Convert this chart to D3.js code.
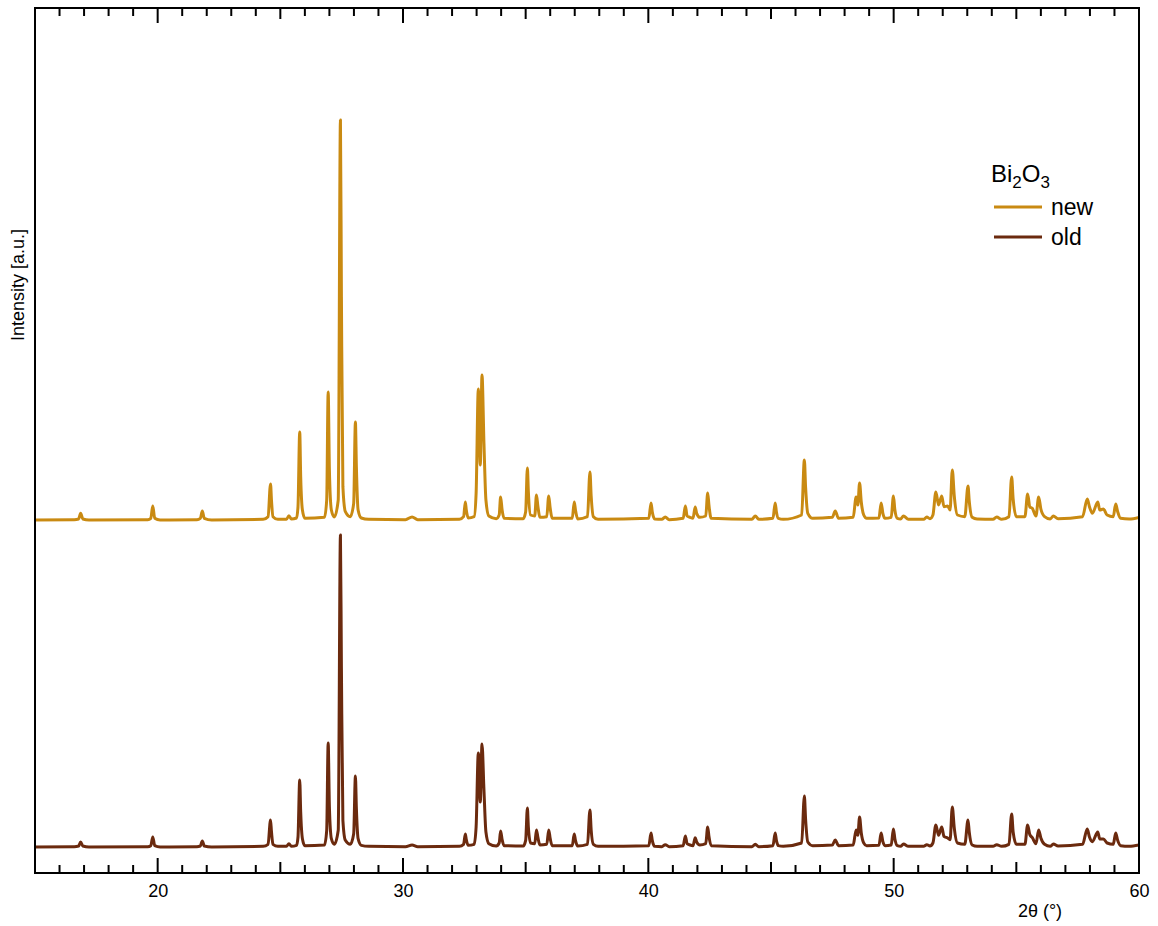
<!DOCTYPE html>
<meta charset="utf-8">
<style>
body { margin: 0; background: #fff; }
svg { display: block; }
text { font-family: "Liberation Sans", Arial, sans-serif; fill: #000; }
.trace { fill: none; stroke-width: 3px; stroke-linejoin: round; }
.trace--new { stroke: #c98a12; }
.trace--old { stroke: #6b2a0e; }
.frame { fill: none; stroke: #000; stroke-width: 2px; }
.tick-mark { stroke: #000; stroke-width: 2px; }
</style>
<svg width="1158" height="926"></svg>
<script src="https://cdn.jsdelivr.net/npm/d3@7"></script>
<script>
// XRD patterns, 2theta in degrees, intensity in counts (baseline ~0)
var twoTheta = [
  15.0, 16.6, 16.78, 16.86, 16.95, 17.2,
  19.6, 19.72, 19.80, 19.88, 20.1,
  21.6, 21.74, 21.82, 21.9, 22.2,
  24.3, 24.5, 24.6, 24.64, 24.7, 24.9,
  25.25, 25.35, 25.45, 25.66, 25.72, 25.79, 25.83, 25.9, 26.0,
  26.8, 26.89, 26.95, 27.0, 27.08, 27.2,
  27.36, 27.45, 27.49, 27.55, 27.65, 27.85,
  27.99, 28.06, 28.1, 28.17, 28.3, 28.6,
  30.1, 30.37, 30.6,
  32.3, 32.47, 32.54, 32.58, 32.66,
  32.9, 32.98, 33.07, 33.15, 33.22, 33.3, 33.38, 33.5,
  33.8, 33.92, 33.98, 34.04, 34.12,
  34.9, 35.0, 35.07, 35.11, 35.2,
  35.37, 35.44, 35.5, 35.58,
  35.86, 35.94, 36.0, 36.08,
  36.9, 36.98, 37.03, 37.12,
  37.52, 37.62, 37.67, 37.76, 37.95,
  40.02, 40.11, 40.16, 40.26,
  40.55, 40.69, 40.85,
  41.42, 41.51, 41.58, 41.7, 41.82, 41.91, 41.97, 42.1,
  42.34, 42.42, 42.47, 42.56,
  44.22, 44.36, 44.5,
  45.08, 45.17, 45.22, 45.3, 45.5,
  46.25, 46.36, 46.41, 46.5, 46.7,
  47.5, 47.62, 47.75,
  48.35, 48.47, 48.54, 48.61, 48.68, 48.78, 48.9,
  49.4, 49.49, 49.56, 49.65,
  49.9, 49.99, 50.05, 50.15,
  50.28, 50.4, 50.6,
  51.22, 51.35, 51.48, 51.6, 51.72, 51.83, 51.96, 52.05, 52.2, 52.3, 52.39, 52.47, 52.6,
  52.9, 53.03, 53.08, 53.2, 53.4,
  54.05, 54.2, 54.4,
  54.7, 54.81, 54.87, 55.0,
  55.35, 55.46, 55.55, 55.65, 55.8, 55.91, 56.0, 56.15,
  56.38, 56.51, 56.7,
  57.7, 57.89, 57.98, 58.1, 58.32, 58.4, 58.55, 58.7,
  58.95, 59.05, 59.13, 59.25, 59.6, 60.0
];

var newCounts = [
  0, 1, 3, 20, 3, 0,
  1, 5, 42, 5, 0,
  1, 5, 27, 5, 0,
  2, 10, 108, 58, 10, 2,
  2, 13, 3, 6, 40, 264, 130, 30, 5,
  8, 60, 384, 150, 30, 9,
  60, 1200, 670, 100, 25, 10,
  50, 294, 160, 30, 6, 2,
  1, 9, 1,
  2, 10, 54, 30, 6,
  10, 80, 393, 165, 435, 230, 60, 12,
  4, 15, 69, 30, 5,
  4, 25, 156, 85, 15,
  12, 75, 40, 8,
  10, 72, 35, 5,
  5, 54, 30, 3,
  10, 144, 72, 10, 2,
  5, 51, 25, 3,
  2, 9, 1,
  5, 42, 12, 8, 5, 39, 20, 8,
  12, 81, 45, 5,
  2, 12, 2,
  5, 51, 25, 5, 2,
  15, 180, 99, 20, 5,
  8, 27, 5,
  8, 69, 45, 111, 54, 15, 5,
  6, 51, 20, 5,
  8, 72, 30, 5,
  3, 12, 2,
  2, 9, 4, 15, 84, 45, 72, 40, 42, 30, 150, 72, 15,
  10, 102, 57, 8, 3,
  2, 9, 2,
  10, 129, 63, 10,
  10, 78, 39, 35, 12, 69, 33, 10,
  3, 12, 4,
  10, 63, 40, 20, 54, 30, 33, 15,
  10, 48, 25, 5, 3, 8
];

var oldCounts = [
  0, 1, 3, 15, 3, 0,
  1, 4, 30, 4, 0,
  1, 3, 18, 3, 0,
  2, 8, 81, 45, 8, 2,
  2, 10, 2, 5, 30, 201, 105, 25, 4,
  6, 50, 312, 120, 25, 8,
  50, 936, 537, 80, 20, 8,
  40, 213, 116, 25, 5, 2,
  1, 6, 1,
  2, 8, 39, 22, 5,
  8, 60, 282, 135, 309, 171, 45, 10,
  3, 12, 48, 22, 4,
  3, 20, 117, 60, 12,
  10, 51, 28, 6,
  8, 51, 25, 4,
  4, 39, 20, 3,
  8, 111, 51, 8, 2,
  4, 42, 20, 2,
  1, 7, 1,
  4, 33, 10, 6, 4, 28, 15, 6,
  10, 60, 32, 4,
  1, 8, 1,
  4, 42, 20, 4, 2,
  12, 153, 84, 15, 4,
  6, 21, 4,
  6, 51, 35, 90, 42, 12, 4,
  5, 42, 16, 4,
  6, 54, 24, 4,
  2, 9, 2,
  2, 7, 3, 12, 66, 35, 60, 32, 27, 22, 120, 57, 12,
  8, 81, 45, 6, 2,
  2, 7, 2,
  8, 99, 45, 8,
  8, 66, 37, 28, 10, 51, 27, 8,
  2, 9, 3,
  8, 54, 30, 16, 45, 24, 24, 12,
  8, 42, 20, 4, 2, 6
];

var seriesNames = ["new", "old"];
var newOffset = 981; // vertical stacking of the "new" pattern
var xTickLabels = [20, 30, 40, 50, 60];

var svg = d3.select("svg"),
    margin = {top: 8, right: 19, bottom: 53, left: 35},
    width = +svg.attr("width") - margin.left - margin.right,
    height = +svg.attr("height") - margin.top - margin.bottom,
    g = svg.append("g").attr("transform", "translate(" + margin.left + "," + margin.top + ")");

var x = d3.scaleLinear().domain([15, 60]).range([0, width]),
    y = d3.scaleLinear().domain([-78, 2517]).range([height, 0]);

var series = [
  {id: "new", offset: newOffset, values: twoTheta.map(function(t, i) { return {t: t, c: newCounts[i]}; })},
  {id: "old", offset: 0, values: twoTheta.map(function(t, i) { return {t: t, c: oldCounts[i]}; })}
];

g.append("clipPath").attr("id", "plot-clip")
  .append("rect").attr("width", width).attr("height", height);

g.selectAll(".trace")
  .data(series)
  .enter().append("path")
    .attr("class", function(d) { return "trace trace--" + d.id; })
    .attr("clip-path", "url(#plot-clip)")
    .attr("d", function(s) {
      return d3.line()
        .curve(d3.curveMonotoneX)
        .x(function(d) { return x(d.t); })
        .y(function(d) { return y(d.c + s.offset); })(s.values);
    });

// inward ticks on bottom and top, longer every 5 and 10 degrees
var tickVals = d3.range(16, 60);
function tickLen(v) { return v % 10 === 0 ? 15 : (v % 5 === 0 ? 11 : 8); }

g.selectAll(".tick-bottom")
  .data(tickVals)
  .enter().append("line")
    .attr("class", "tick-mark")
    .attr("x1", function(d) { return x(d); })
    .attr("x2", function(d) { return x(d); })
    .attr("y1", height)
    .attr("y2", function(d) { return height - tickLen(d); });

g.selectAll(".tick-top")
  .data(tickVals)
  .enter().append("line")
    .attr("class", "tick-mark")
    .attr("x1", function(d) { return x(d); })
    .attr("x2", function(d) { return x(d); })
    .attr("y1", 0)
    .attr("y2", function(d) { return tickLen(d); });

var xAxis = g.append("g")
    .attr("transform", "translate(0," + height + ")")
    .call(d3.axisBottom(x).tickValues(xTickLabels).tickSize(0).tickPadding(11).tickFormat(d3.format("d")));
xAxis.select(".domain").remove();
xAxis.selectAll("text").style("font-size", "18px").attr("font-family", null);

g.append("rect")
    .attr("class", "frame")
    .attr("width", width)
    .attr("height", height);

// axis titles
svg.append("text")
    .attr("x", 1040)
    .attr("y", 917)
    .attr("text-anchor", "middle")
    .style("font-size", "18px")
    .text("2θ (°)");

svg.append("text")
    .attr("transform", "translate(24,285) rotate(-90)")
    .attr("text-anchor", "middle")
    .style("font-size", "18px")
    .text("Intensity [a.u.]");

// legend
var legend = svg.append("g").attr("transform", "translate(991,0)");

var title = legend.append("text")
    .attr("x", 0)
    .attr("y", 182)
    .style("font-size", "24px");
title.append("tspan").text("Bi");
title.append("tspan").attr("dy", 6).style("font-size", "17px").text("2");
title.append("tspan").attr("dy", -6).text("O");
title.append("tspan").attr("dy", 6).style("font-size", "17px").text("3");

var item = legend.selectAll(".legend-item")
  .data(seriesNames)
  .enter().append("g")
    .attr("transform", function(d, i) { return "translate(0," + (207 + i * 30) + ")"; });

item.append("line")
    .attr("class", function(d) { return "trace trace--" + d; })
    .attr("x1", 3)
    .attr("x2", 51);

item.append("text")
    .attr("x", 60)
    .attr("dy", "0.35em")
    .style("font-size", "23px")
    .text(function(d) { return d; });
</script>
